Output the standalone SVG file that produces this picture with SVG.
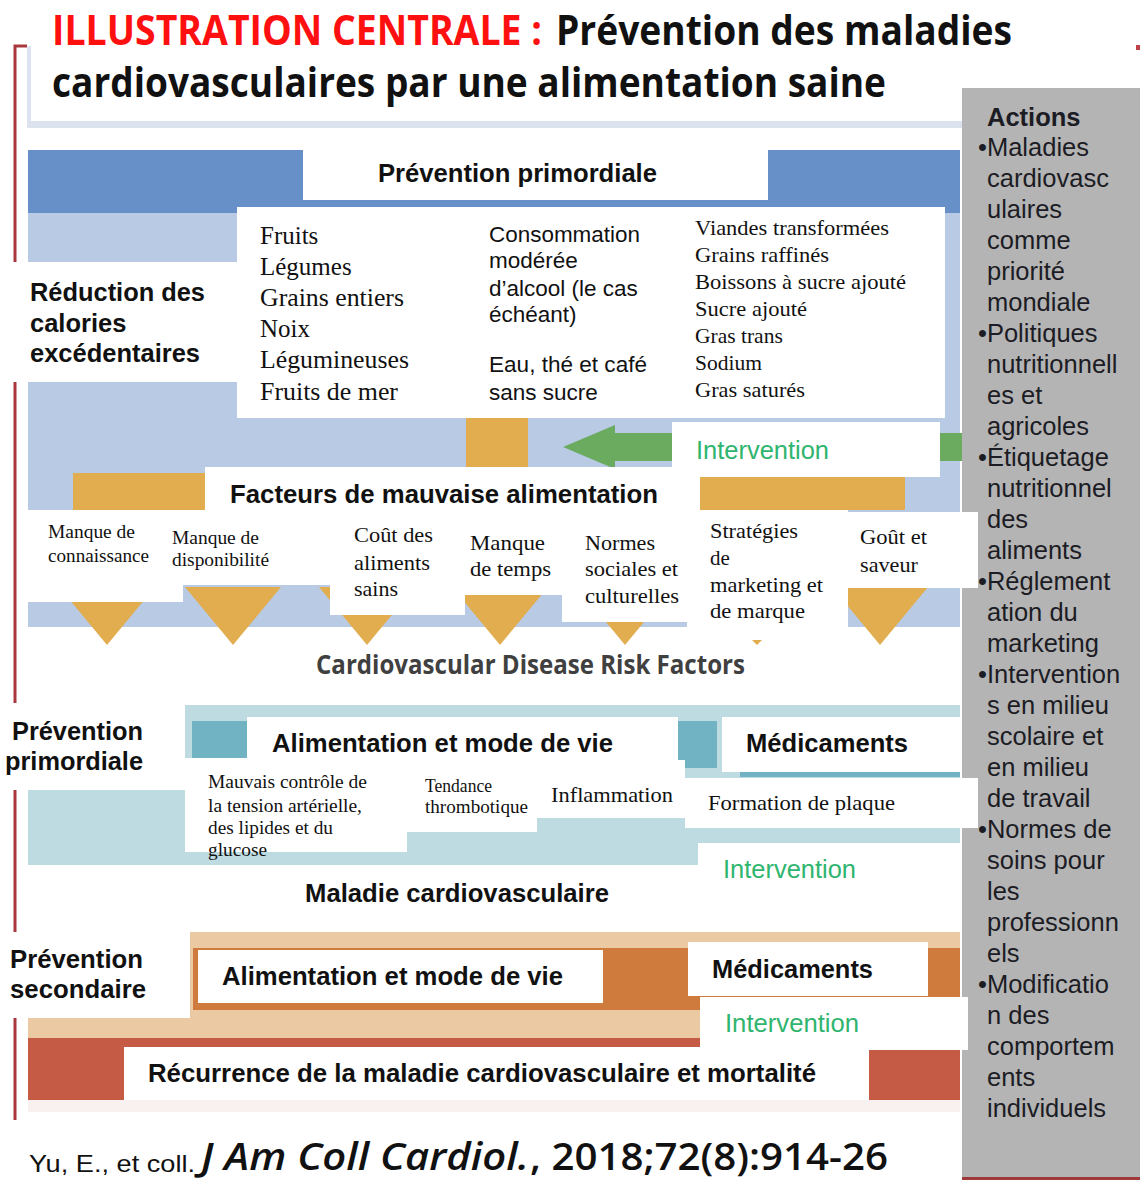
<svg xmlns="http://www.w3.org/2000/svg" width="1140" height="1180" viewBox="0 0 1140 1180">
<style>
.sb{font-family:"Liberation Sans",Arial,sans-serif;font-weight:bold;fill:#111;font-size:25.5px}
.s{font-family:"Liberation Sans",Arial,sans-serif;fill:#111;font-size:22.5px}
.sr{font-family:"Liberation Serif","Times New Roman",serif;fill:#111}
.w{fill:#fff}
.int{font-family:"Liberation Sans",Arial,sans-serif;fill:#2fb56e;font-size:25.5px}
.act{font-family:"Liberation Sans",Arial,sans-serif;fill:#1c1c24;font-size:25.5px}
.tri{fill:#e2ad4f}
.trap{fill:#72b3c3}
.ttl{font-family:"Open Sans","Liberation Sans",sans-serif;font-weight:bold;font-size:42px}
.ft{font-family:"Open Sans","Liberation Sans",sans-serif;font-weight:600;font-size:37px;fill:#111}
</style>
<rect width="1140" height="1180" fill="#fff"/>
<g id="frame">
<rect x="27" y="46" width="4" height="80" fill="#dde3ef"/>
<rect x="27" y="121" width="935" height="7" fill="#dce3ef"/>
<path d="M27 46H15V1120" stroke="#a8383e" stroke-width="3" fill="none"/>
<rect x="1136" y="45" width="4" height="5" fill="#c04048"/>
</g>
<g id="title">
<text class="ttl" x="52" y="45" fill="#ff1010" textLength="490" lengthAdjust="spacingAndGlyphs">ILLUSTRATION CENTRALE :</text>
<text class="ttl" x="556" y="45" fill="#111" textLength="456" lengthAdjust="spacingAndGlyphs">Prévention des maladies</text>
<text class="ttl" x="52" y="97" fill="#111" textLength="834" lengthAdjust="spacingAndGlyphs">cardiovasculaires par une alimentation saine</text>
</g>
<g id="actions-panel">
<rect x="962" y="88" width="178" height="1092" fill="#b4b4b4"/>
<rect x="962" y="1177" width="178" height="3" fill="#a0393a"/>
</g>
<g id="band-primordial-diet">
<rect x="28" y="150" width="932" height="63" fill="#6890c8"/>
<rect x="28" y="213" width="932" height="414" fill="#b9cae4"/>
<rect class="w" x="303" y="150" width="465" height="50"/>
<rect class="w" x="237" y="207" width="708" height="211"/>
<rect class="w" x="0" y="262" width="237" height="120"/>
<rect x="466" y="418" width="62" height="50" fill="#e2ad4f"/>
<rect x="73" y="473" width="832" height="37" fill="#e2ad4f"/>
</g>
<g id="connectors">
<rect x="600" y="433" width="362" height="28" fill="#6aab5f"/>
<polygon points="563,447 615,425 615,469" fill="#6aab5f"/>
<polygon class="tri" points="59,587 155,587 107,645"/>
<polygon class="tri" points="185,587 281,587 233,645"/>
<polygon class="tri" points="319,587 415,587 367,645"/>
<polygon class="tri" points="452,587 548,587 500,645"/>
<polygon class="tri" points="577,587 673,587 625,645"/>
<polygon class="tri" points="712,600 802,600 757,645"/>
<polygon class="tri" points="832,587 928,587 880,645"/>
<polygon class="trap" points="262,845 335,845 315,865 283,865"/>
<polygon class="trap" points="420,832 515,832 490,865 453,865"/>
<rect x="577" y="818" width="113" height="12" fill="#a9d0d9"/>
<rect class="trap" x="607" y="815" width="63" height="15"/>
<polygon class="trap" points="588,830 688,830 660,863 617,863"/>
<polygon class="trap" points="760,827 858,827 847,842 790,842"/>
</g>
<g id="node-prevention-primordiale-top">
<text class="sb" x="378" y="182" textLength="279" lengthAdjust="spacingAndGlyphs">Prévention primordiale</text>
</g>
<g id="node-reduction">
<text class="sb" x="30" y="301" textLength="175" lengthAdjust="spacingAndGlyphs">Réduction des</text>
<text class="sb" x="30" y="332">calories</text>
<text class="sb" x="30" y="362" textLength="170" lengthAdjust="spacingAndGlyphs">excédentaires</text>
</g>
<g id="node-healthy-foods" class="sr" font-size="25">
<text x="260" y="244">Fruits</text>
<text x="260" y="275">Légumes</text>
<text x="260" y="306" textLength="144" lengthAdjust="spacingAndGlyphs">Grains entiers</text>
<text x="260" y="337">Noix</text>
<text x="260" y="368" textLength="149" lengthAdjust="spacingAndGlyphs">Légumineuses</text>
<text x="260" y="400" textLength="138" lengthAdjust="spacingAndGlyphs">Fruits de mer</text>
</g>
<g id="node-drinks" class="s">
<text class="s" x="489" y="242" textLength="151" lengthAdjust="spacingAndGlyphs">Consommation</text>
<text class="s" x="489" y="268">modérée</text>
<text class="s" x="489" y="296">d’alcool (le cas</text>
<text class="s" x="489" y="322">échéant)</text>
<text class="s" x="489" y="372" textLength="158" lengthAdjust="spacingAndGlyphs">Eau, thé et café</text>
<text class="s" x="489" y="400">sans sucre</text>
</g>
<g id="node-unhealthy-foods" class="sr" font-size="21.5">
<text x="695" y="235" textLength="194" lengthAdjust="spacingAndGlyphs">Viandes transformées</text>
<text x="695" y="262" textLength="134" lengthAdjust="spacingAndGlyphs">Grains raffinés</text>
<text x="695" y="289" textLength="211" lengthAdjust="spacingAndGlyphs">Boissons à sucre ajouté</text>
<text x="695" y="316" textLength="112" lengthAdjust="spacingAndGlyphs">Sucre ajouté</text>
<text x="695" y="343">Gras trans</text>
<text x="695" y="370">Sodium</text>
<text x="695" y="397" textLength="110" lengthAdjust="spacingAndGlyphs">Gras saturés</text>
</g>
<g id="node-intervention-1">
<rect class="w" x="672" y="422" width="268" height="55"/>
<text class="int" x="696" y="459" textLength="133" lengthAdjust="spacingAndGlyphs">Intervention</text>
</g>
<g id="node-facteurs">
<rect class="w" x="205" y="467" width="495" height="48"/>
<text class="sb" x="230" y="503" textLength="428" lengthAdjust="spacingAndGlyphs">Facteurs de mauvaise alimentation</text>
</g>
<g id="node-factor-connaissance">
<rect class="w" x="26" y="510" width="157" height="92"/>
<text class="sr" font-size="19" x="48" y="538" textLength="87" lengthAdjust="spacingAndGlyphs">Manque de</text>
<text class="sr" font-size="19" x="48" y="562" textLength="101" lengthAdjust="spacingAndGlyphs">connaissance</text>
</g>
<g id="node-factor-disponibilite">
<rect class="w" x="183" y="510" width="147" height="75"/>
<text class="sr" font-size="19" x="172" y="544" textLength="87" lengthAdjust="spacingAndGlyphs">Manque de</text>
<text class="sr" font-size="19" x="172" y="566" textLength="97" lengthAdjust="spacingAndGlyphs">disponibilité</text>
</g>
<g id="node-factor-cout">
<rect class="w" x="330" y="510" width="135" height="105"/>
<text class="sr" font-size="21" x="354" y="542" textLength="79" lengthAdjust="spacingAndGlyphs">Coût des</text>
<text class="sr" font-size="21" x="354" y="570" textLength="76" lengthAdjust="spacingAndGlyphs">aliments</text>
<text class="sr" font-size="21" x="354" y="596" textLength="44" lengthAdjust="spacingAndGlyphs">sains</text>
</g>
<g id="node-factor-temps">
<rect class="w" x="465" y="510" width="97" height="85"/>
<text class="sr" font-size="21" x="470" y="550" textLength="75" lengthAdjust="spacingAndGlyphs">Manque</text>
<text class="sr" font-size="21" x="470" y="576" textLength="81" lengthAdjust="spacingAndGlyphs">de temps</text>
</g>
<g id="node-factor-normes">
<rect class="w" x="562" y="510" width="125" height="112"/>
<text class="sr" font-size="21" x="585" y="550" textLength="70" lengthAdjust="spacingAndGlyphs">Normes</text>
<text class="sr" font-size="21" x="585" y="576" textLength="93" lengthAdjust="spacingAndGlyphs">sociales et</text>
<text class="sr" font-size="21" x="585" y="603" textLength="94" lengthAdjust="spacingAndGlyphs">culturelles</text>
</g>
<g id="node-factor-marketing">
<rect class="w" x="687" y="510" width="161" height="130"/>
<text class="sr" font-size="21" x="710" y="538" textLength="88" lengthAdjust="spacingAndGlyphs">Stratégies</text>
<text class="sr" font-size="21" x="710" y="565">de</text>
<text class="sr" font-size="21" x="710" y="592" textLength="113" lengthAdjust="spacingAndGlyphs">marketing et</text>
<text class="sr" font-size="21" x="710" y="618" textLength="95" lengthAdjust="spacingAndGlyphs">de marque</text>
</g>
<g id="node-factor-gout">
<rect class="w" x="848" y="512" width="130" height="76"/>
<text class="sr" font-size="21" x="860" y="544" textLength="67" lengthAdjust="spacingAndGlyphs">Goût et</text>
<text class="sr" font-size="21" x="860" y="572" textLength="58" lengthAdjust="spacingAndGlyphs">saveur</text>
</g>
<g id="node-risk-factors">
<text x="316" y="674" font-family="'Open Sans','Liberation Sans',sans-serif" font-weight="bold" font-size="27" fill="#404040" textLength="429" lengthAdjust="spacingAndGlyphs">Cardiovascular Disease Risk Factors</text>
</g>
<g id="band-primordial-2">
<rect x="28" y="705" width="932" height="160" fill="#bedbe2" />
</g>
<g id="node-label-primordiale">
<rect class="w" x="0" y="703" width="185" height="87"/>
<text class="sb" x="12" y="740" textLength="131" lengthAdjust="spacingAndGlyphs">Prévention</text>
<text class="sb" x="5" y="770" textLength="138" lengthAdjust="spacingAndGlyphs">primordiale</text>
</g>
<g id="node-alim-1">
<rect class="trap" x="192" y="721" width="55" height="37"/>
<rect class="w" x="247" y="717" width="431" height="43"/>
<text class="sb" x="272" y="752" textLength="341" lengthAdjust="spacingAndGlyphs">Alimentation et mode de vie</text>
</g>
<g id="node-med-1">
<rect class="trap" x="678" y="721" width="39" height="47"/>
<rect class="w" x="722" y="717" width="238" height="55"/>
<rect class="trap" x="740" y="772" width="220" height="5"/>
<text class="sb" x="746" y="752" textLength="162" lengthAdjust="spacingAndGlyphs">Médicaments</text>
</g>
<g id="node-mauvais">
<rect class="w" x="185" y="758" width="222" height="94"/>
<text class="sr" font-size="19" x="208" y="788" textLength="159" lengthAdjust="spacingAndGlyphs">Mauvais contrôle de</text>
<text class="sr" font-size="19" x="208" y="812" textLength="154" lengthAdjust="spacingAndGlyphs">la tension artérielle,</text>
<text class="sr" font-size="19" x="208" y="834" textLength="125" lengthAdjust="spacingAndGlyphs">des lipides et du</text>
<text class="sr" font-size="19" x="208" y="856" textLength="59" lengthAdjust="spacingAndGlyphs">glucose</text>
</g>
<g id="node-tendance">
<rect class="w" x="407" y="760" width="130" height="72"/>
<text class="sr" font-size="18" x="425" y="792" textLength="67" lengthAdjust="spacingAndGlyphs">Tendance</text>
<text class="sr" font-size="18" x="425" y="813" textLength="103" lengthAdjust="spacingAndGlyphs">thrombotique</text>
</g>
<g id="node-inflammation">
<rect class="w" x="535" y="760" width="150" height="58"/>
<text class="sr" font-size="21" x="551" y="802" textLength="122" lengthAdjust="spacingAndGlyphs">Inflammation</text>
</g>
<g id="node-plaque">
<rect class="w" x="685" y="778" width="293" height="50"/>
<text class="sr" font-size="21" x="708" y="810" textLength="187" lengthAdjust="spacingAndGlyphs">Formation de plaque</text>
</g>
<g id="node-intervention-2">
<rect class="w" x="698" y="843" width="262" height="54"/>
<text class="int" x="723" y="878" textLength="133" lengthAdjust="spacingAndGlyphs">Intervention</text>
</g>
<g id="node-maladie">
<text class="sb" x="305" y="902" textLength="304" lengthAdjust="spacingAndGlyphs">Maladie cardiovasculaire</text>
</g>
<g id="band-secondary">
<rect x="28" y="932" width="932" height="108" fill="#eac9a3"/>
<rect x="193" y="948" width="767" height="62" fill="#cf7b3d"/>
<rect x="28" y="1038" width="932" height="62" fill="#c55b45"/>
<rect x="28" y="1100" width="932" height="12" fill="#f9f1ef"/>
</g>
<g id="node-label-secondaire">
<rect class="w" x="0" y="932" width="190" height="86"/>
<text class="sb" x="10" y="968" textLength="133" lengthAdjust="spacingAndGlyphs">Prévention</text>
<text class="sb" x="10" y="998" textLength="136" lengthAdjust="spacingAndGlyphs">secondaire</text>
</g>
<g id="node-alim-2">
<rect class="w" x="198" y="950" width="405" height="53"/>
<text class="sb" x="222" y="985" textLength="341" lengthAdjust="spacingAndGlyphs">Alimentation et mode de vie</text>
</g>
<g id="node-med-2">
<rect class="w" x="688" y="942" width="240" height="54"/>
<text class="sb" x="712" y="978" textLength="161" lengthAdjust="spacingAndGlyphs">Médicaments</text>
</g>
<g id="node-intervention-3">
<rect class="w" x="700" y="997" width="268" height="53"/>
<text class="int" x="725" y="1032" textLength="134" lengthAdjust="spacingAndGlyphs">Intervention</text>
</g>
<g id="node-recurrence">
<rect class="w" x="124" y="1047" width="745" height="53"/>
<text class="sb" x="148" y="1082" textLength="668" lengthAdjust="spacingAndGlyphs">Récurrence de la maladie cardiovasculaire et mortalité</text>
</g>
<g id="footer">
<text x="29" y="1172" font-family="'Liberation Sans',Arial,sans-serif" font-size="24" fill="#111" textLength="166" lengthAdjust="spacingAndGlyphs">Yu, E., et coll.</text>
<text class="ft" x="201" y="1170" font-style="italic" textLength="328" lengthAdjust="spacingAndGlyphs">J Am Coll Cardiol.</text>
<text class="ft" x="530" y="1170" textLength="358" lengthAdjust="spacingAndGlyphs">, 2018;72(8):914-26</text>
</g>
<g id="node-actions">
<text class="act" x="987" y="126" font-weight="bold">Actions</text>
<text class="act" x="978" y="156">•Maladies</text>
<text class="act" x="987" y="187">cardiovasc</text>
<text class="act" x="987" y="218">ulaires</text>
<text class="act" x="987" y="249">comme</text>
<text class="act" x="987" y="280">priorité</text>
<text class="act" x="987" y="311">mondiale</text>
<text class="act" x="978" y="342">•Politiques</text>
<text class="act" x="987" y="373">nutritionnell</text>
<text class="act" x="987" y="404">es et</text>
<text class="act" x="987" y="435">agricoles</text>
<text class="act" x="978" y="466">•Étiquetage</text>
<text class="act" x="987" y="497">nutritionnel</text>
<text class="act" x="987" y="528">des</text>
<text class="act" x="987" y="559">aliments</text>
<text class="act" x="978" y="590">•Réglement</text>
<text class="act" x="987" y="621">ation du</text>
<text class="act" x="987" y="652">marketing</text>
<text class="act" x="978" y="683">•Intervention</text>
<text class="act" x="987" y="714">s en milieu</text>
<text class="act" x="987" y="745">scolaire et</text>
<text class="act" x="987" y="776">en milieu</text>
<text class="act" x="987" y="807">de travail</text>
<text class="act" x="978" y="838">•Normes de</text>
<text class="act" x="987" y="869">soins pour</text>
<text class="act" x="987" y="900">les</text>
<text class="act" x="987" y="931">professionn</text>
<text class="act" x="987" y="962">els</text>
<text class="act" x="978" y="993">•Modificatio</text>
<text class="act" x="987" y="1024">n des</text>
<text class="act" x="987" y="1055">comportem</text>
<text class="act" x="987" y="1086">ents</text>
<text class="act" x="987" y="1117">individuels</text>
</g>
</svg>
